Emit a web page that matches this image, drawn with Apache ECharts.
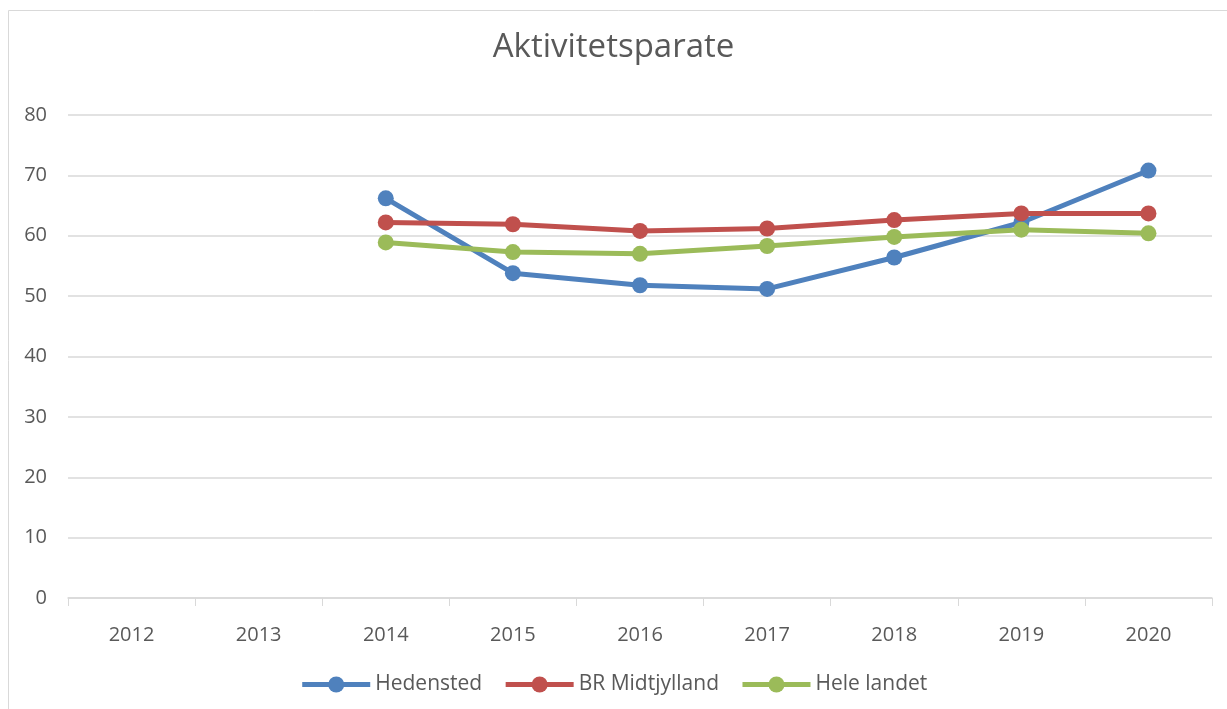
<!DOCTYPE html>
<html><head><meta charset="utf-8">
<script src="https://cdn.jsdelivr.net/npm/echarts@6/dist/echarts.min.js"></script>
<style>html,body{margin:0;padding:0;background:#fff}#c{width:1227px;height:709px}</style>
</head><body><div id="c"></div>
<script>
const categories = ['2012','2013','2014','2015','2016','2017','2018','2019','2020'];
const hedensted = [null, null, 66.2, 53.8, 51.8, 51.2, 56.4, 62.2, 70.8];
const midtjylland = [null, null, 62.2, 61.9, 60.8, 61.2, 62.6, 63.7, 63.7];
const heleLandet = [null, null, 58.9, 57.3, 57.0, 58.3, 59.8, 61.0, 60.4];
const seriesNames = ['Hedensted', 'BR Midtjylland', 'Hele landet'];
const colors = ['#4f81bd', '#c0504d', '#9bbb59'];
const font = 'Open Sans';
const chart = echarts.init(document.getElementById('c'));
const mk = (name, data, color) => ({
  name, type: 'line', data, connectNulls: false,
  symbol: 'circle', symbolSize: 16,
  lineStyle: { width: 5, color },
  itemStyle: { color },
  emphasis: { disabled: true }
});
chart.setOption({
  animation: false,
  title: { text: 'Aktivitetsparate', left: 'center', top: 26,
    textStyle: { fontFamily: font, fontSize: 33, fontWeight: 'normal', color: '#595959' } },
  graphic: [{ type: 'rect', shape: { x: 8.5, y: 10.5, width: 1240, height: 720 },
    style: { fill: 'none', stroke: '#d9d9d9', lineWidth: 1 } }],
  legend: { bottom: 9, left: 'center', itemWidth: 68, itemHeight: 20, itemGap: 21,
    lineStyle: { width: 5 },
    textStyle: { fontFamily: font, fontSize: 21, color: '#595959' },
    data: seriesNames },
  grid: { left: 68, right: 15, top: 115, bottom: 111 },
  xAxis: { type: 'category', data: categories, boundaryGap: true,
    axisLine: { lineStyle: { color: '#d9d9d9', width: 1.5 } },
    axisTick: { show: true, length: 8, lineStyle: { color: '#d9d9d9' } },
    axisLabel: { fontFamily: font, fontSize: 20, color: '#595959', margin: 27 } },
  yAxis: { type: 'value', min: 0, max: 80, interval: 10,
    axisLine: { show: false }, axisTick: { show: false },
    splitLine: { lineStyle: { color: '#d9d9d9', width: 1.5 } },
    axisLabel: { fontFamily: font, fontSize: 20, color: '#595959', margin: 21 } },
  series: [mk(seriesNames[0], hedensted, colors[0]), mk(seriesNames[1], midtjylland, colors[1]), mk(seriesNames[2], heleLandet, colors[2])]
});
</script></body></html>
